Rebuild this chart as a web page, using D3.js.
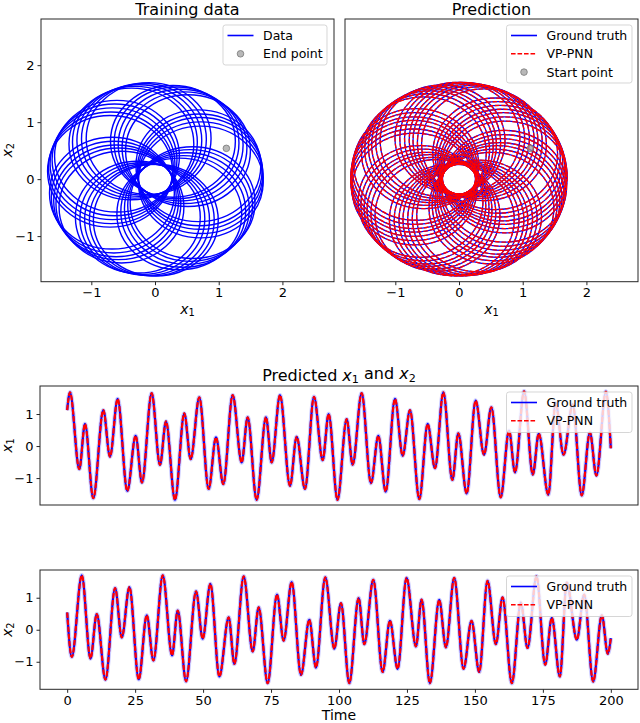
<!DOCTYPE html>
<html><head><meta charset="utf-8">
<script src="https://cdn.jsdelivr.net/npm/d3@7"></script>
<style>body{margin:0;background:#fff} text{font-family:"DejaVu Sans",sans-serif;fill:#000}</style>
</head><body><svg id="c" width="640" height="723"></svg>
<script>
// ---------- data ----------
// time series: local maxima / minima (time, value) of x1 and x2
const x1Times  = [0,1.03,4.46,6.55,9.61,13.29,15.75,18.57,22.12,25.19,27.52,31.08,34.14,36.35,39.66,43.09,45.43,48.61,52.05,54.75,57.44,60.88,64.19,66.4,69.71,73.14,75.23,78.29,81.97,84.43,87.49,90.8,93.99,96.2,99.45,102.82,105.03,108.34,111.77,114.47,117.17,120.6,123.43,126.12,129.55,132.62,135.32,138.39,141.7,143.9,146.97,150.28,153.35,156.05,159.48,162.55,164.76,168.1,171.3,173.5,177.0,179.7,182.6,186.0,189.3,192.3,194.7,198.2,200];
const x1Values = [1.12,1.68,-0.72,0.69,-1.63,1.12,-0.33,1.47,-1.40,0.32,-1.14,1.65,-0.59,0.77,-1.68,1.02,-0.41,1.52,-1.34,0.27,-1.19,1.59,-0.51,0.90,-1.68,0.90,-0.51,1.59,-1.24,0.29,-1.34,1.54,-0.44,1.00,-1.68,0.84,-0.58,1.65,-1.16,0.32,-1.42,1.47,-0.30,1.12,-1.66,0.69,-0.69,1.68,-1.06,0.40,-1.48,1.42,-0.27,1.21,-1.60,0.48,-0.82,1.71,-0.89,0.39,-1.52,1.35,-0.27,1.30,-1.54,0.42,-0.92,1.70,-0.07];
const x2Times  = [0,1.7,5.38,8.57,10.89,14.08,17.63,20.09,22.9,26.33,29.28,31.73,35.16,38.59,40.67,43.74,47.41,49.86,52.68,55.99,59.42,61.51,64.94,68.25,70.45,73.76,77.19,79.64,82.59,86.02,89.08,91.53,94.96,98.27,100.72,103.79,107.22,109.3,112.61,116.04,118.74,121.56,124.86,128.3,130.38,133.44,136.87,139.33,142.39,145.82,148.76,151.58,154.64,157.71,160.16,163.59,166.9,169.35,172.66,175.85,178.3,181.24,183.8,187.5,190.2,193.5,196.7,198.9,200];
const x2Values = [0.54,-0.85,1.70,-0.90,0.49,-1.56,1.30,-0.24,1.33,-1.55,0.45,-0.96,1.70,-0.80,0.60,-1.61,1.20,-0.28,1.43,-1.46,0.39,-1.07,1.67,-0.68,0.70,-1.67,1.10,-0.34,1.49,-1.41,0.31,-1.18,1.64,-0.59,0.83,-1.67,0.99,-0.45,1.56,-1.32,0.28,-1.22,1.62,-0.52,0.94,-1.67,0.93,-0.55,1.62,-1.22,0.28,-1.32,1.53,-0.45,1.01,-1.67,0.85,-0.57,1.67,-1.09,0.37,-1.46,1.47,-0.31,1.10,-1.62,0.45,-0.75,-0.26];
// phase portrait: direction (deg) of the far point of each loop, outer / inner radius
const trainLoopAngles = [19,121,-137,-35,67,169,-89,13,116,-143,-40,62,164,-94,8,110,-148,-46,56,158,-100,2,104,-154,-52,50,152,-106,-4,98,-160,-58,44,146,-112];
const predLoopAngles  = [-10,92,-166,-64,38,140,-118,-16,86,-172,-70,32,134,-124,-22,80,-178,-76,26,128,-130,-28,74,176,-82,20,123,-135,-33,69,171,-87,15,117,-141,-39,63,165,-93,9,111,-147,-45,57,159,-99,3];
const loopOuter = 1.70, loopInner = 0.26;
const switchPoint = [1.12, 0.54];
const phaseTicks = [-1, 0, 1, 2];
const timeTicks = [0, 25, 50, 75, 100, 125, 150, 175, 200];
const valueTicks = [-1, 0, 1];

// ---------- drawing ----------
const svg = d3.select('#c');
const BLUE = '#0000ff', RED = '#ff0000', FRAME = '#262626';
const fmt = d => (d < 0 ? '\u2212' + Math.abs(d) : String(d));

function frame(xs, ys) {
  svg.append('rect').attr('x', xs.range()[0]).attr('y', ys.range()[1])
    .attr('width', xs.range()[1] - xs.range()[0]).attr('height', ys.range()[0] - ys.range()[1])
    .attr('fill', 'none').attr('stroke', FRAME).attr('stroke-width', 1);
}
function xAxis(xs, ys, ticks, labels) {
  const g = svg.append('g').attr('transform', `translate(0,${ys.range()[0]})`)
    .call(d3.axisBottom(xs).tickValues(ticks).tickSize(3.5).tickPadding(3)
      .tickFormat(labels ? fmt : () => ''));
  g.select('.domain').remove();
  g.selectAll('line').attr('stroke', FRAME);
  g.selectAll('text').attr('font-size', 13).attr('font-family', '"DejaVu Sans"');
}
function yAxis(xs, ys, ticks, labels) {
  const g = svg.append('g').attr('transform', `translate(${xs.range()[0]},0)`)
    .call(d3.axisLeft(ys).tickValues(ticks).tickSize(3.5).tickPadding(3)
      .tickFormat(labels ? fmt : () => ''));
  g.select('.domain').remove();
  g.selectAll('line').attr('stroke', FRAME);
  g.selectAll('text').attr('font-size', 13).attr('font-family', '"DejaVu Sans"');
}
function mathText(sel, parts) {
  let shifted = false;
  parts.forEach(([t, k]) => {
    const ts = sel.append('tspan').text(t);
    if (k === 'i') ts.attr('font-style', 'italic');
    if (k === 's') { ts.attr('font-size', '0.7em'); if (!shifted) { ts.attr('dy', '0.25em'); shifted = true; } }
    else if (shifted) { ts.attr('dy', '-0.25em'); shifted = false; }
  });
  return sel;
}
function label(x, y, parts, size, rotate) {
  const t = svg.append('text').attr('text-anchor', 'middle').attr('font-size', size)
    .attr('transform', rotate ? `translate(${x},${y}) rotate(-90)` : `translate(${x},${y})`);
  mathText(t, parts);
}
function legend(x, y, w, h, items) {
  const g = svg.append('g');
  g.append('rect').attr('x', x).attr('y', y).attr('width', w).attr('height', h).attr('rx', 2.5)
    .attr('fill', '#fff').attr('fill-opacity', 0.8).attr('stroke', '#cccccc').attr('stroke-opacity', 0.8);
  items.forEach((it, i) => {
    const cy = y + 10.5 + i * 18.3;
    if (it.kind === 'marker') {
      g.append('circle').attr('cx', x + 17.5).attr('cy', cy).attr('r', 3.3)
        .attr('fill', '#9a9a9a').attr('fill-opacity', 0.7).attr('stroke', '#777').attr('stroke-width', 0.8);
    } else {
      g.append('line').attr('x1', x + 4.5).attr('x2', x + 30.5).attr('y1', cy).attr('y2', cy)
        .attr('stroke', it.color).attr('stroke-width', 1.6)
        .attr('stroke-dasharray', it.kind === 'dash' ? '4.6,1.9' : null);
    }
    g.append('text').attr('x', x + 40).attr('y', cy + 4.6).attr('font-size', 12.5).text(it.label);
  });
}

// ---- phase portraits ----
const phaseY = d3.scaleLinear([-1.80, 2.81], [281.7, 19]);
const phaseXL = d3.scaleLinear([-1.79, 2.81], [41, 334]);
const phaseXR = d3.scaleLinear([-1.79, 2.81], [345, 638]);
const loopOffset = (loopOuter - loopInner) / 2, loopRadius = (loopOuter + loopInner) / 2;
function loops(xs, ys, angles, color, dash, width) {
  svg.append('g').selectAll('ellipse').data(angles).join('ellipse')
    .attr('cx', a => xs(loopOffset * Math.cos(a * Math.PI / 180)))
    .attr('cy', a => ys(loopOffset * Math.sin(a * Math.PI / 180)))
    .attr('rx', xs(loopRadius) - xs(0)).attr('ry', ys(0) - ys(loopRadius))
    .attr('fill', 'none').attr('stroke', color).attr('stroke-width', width)
    .attr('stroke-dasharray', dash ? '4.6,1.9' : null);
}
function marker(xs, ys) {
  svg.append('circle').attr('cx', xs(switchPoint[0])).attr('cy', ys(switchPoint[1])).attr('r', 3.3)
    .attr('fill', '#9a9a9a').attr('fill-opacity', 0.7).attr('stroke', '#777').attr('stroke-width', 0.8);
}
loops(phaseXL, phaseY, trainLoopAngles, BLUE, false, 1.4);
marker(phaseXL, phaseY);
frame(phaseXL, phaseY);
xAxis(phaseXL, phaseY, phaseTicks, true);
yAxis(phaseXL, phaseY, phaseTicks, true);
legend(223, 25, 104, 40, [{kind: 'line', color: BLUE, label: 'Data'}, {kind: 'marker', label: 'End point'}]);

loops(phaseXR, phaseY, predLoopAngles, BLUE, false, 1.3);
loops(phaseXR, phaseY, predLoopAngles, RED, true, 1.3);
marker(phaseXR, phaseY);
frame(phaseXR, phaseY);
xAxis(phaseXR, phaseY, phaseTicks, true);
legend(506.5, 25, 125.5, 58, [{kind: 'line', color: BLUE, label: 'Ground truth'}, {kind: 'dash', color: RED, label: 'VP-PNN'}, {kind: 'marker', label: 'Start point'}]);

svg.append('text').attr('x', 187.5).attr('y', 14.5).attr('text-anchor', 'middle').attr('font-size', 16).text('Training data');
svg.append('text').attr('x', 491.5).attr('y', 14.5).attr('text-anchor', 'middle').attr('font-size', 16).text('Prediction');
label(187.5, 314, [['x', 'i'], ['1', 's']], 14);
label(491.5, 314, [['x', 'i'], ['1', 's']], 14);
label(12, 150.3, [['x', 'i'], ['2', 's']], 14, true);

// ---- time series ----
const timeX = d3.scaleLinear([-10, 210], [40, 638]);
const y1 = d3.scaleLinear([-1.84, 1.875], [505, 386]);
const y2 = d3.scaleLinear([-1.86, 1.866], [689.3, 570]);
function series(ys, times, values) {
  const pts = times.map((t, i) => [t, values[i]]);
  const line = d3.line().x(d => timeX(d[0])).y(d => ys(d[1])).curve(d3.curveMonotoneX);
  svg.append('path').attr('d', line(pts)).attr('fill', 'none').attr('stroke', BLUE)
    .attr('stroke-opacity', 0.2).attr('stroke-width', 4.5);
  svg.append('path').attr('d', line(pts)).attr('fill', 'none').attr('stroke', BLUE).attr('stroke-width', 2.2);
  svg.append('path').attr('d', line(pts)).attr('fill', 'none').attr('stroke', RED).attr('stroke-width', 2.2)
    .attr('stroke-dasharray', '5.5,1.6');
}
series(y1, x1Times, x1Values);
frame(timeX, y1);
yAxis(timeX, y1, valueTicks, true);
legend(506.5, 392, 125.5, 40.5, [{kind: 'line', color: BLUE, label: 'Ground truth'}, {kind: 'dash', color: RED, label: 'VP-PNN'}]);

series(y2, x2Times, x2Values);
frame(timeX, y2);
xAxis(timeX, y2, timeTicks, true);
yAxis(timeX, y2, valueTicks, true);
legend(506.5, 576, 125.5, 40.5, [{kind: 'line', color: BLUE, label: 'Ground truth'}, {kind: 'dash', color: RED, label: 'VP-PNN'}]);

label(339, 380.5, [['Predicted ', 'n'], ['x', 'i'], ['1', 's'], [' and ', 'n'], ['x', 'i'], ['2', 's']], 16);
label(12, 445.5, [['x', 'i'], ['1', 's']], 14, true);
label(12, 629.7, [['x', 'i'], ['2', 's']], 14, true);
svg.append('text').attr('x', 339).attr('y', 720).attr('text-anchor', 'middle').attr('font-size', 14).text('Time');
</script></body></html>
